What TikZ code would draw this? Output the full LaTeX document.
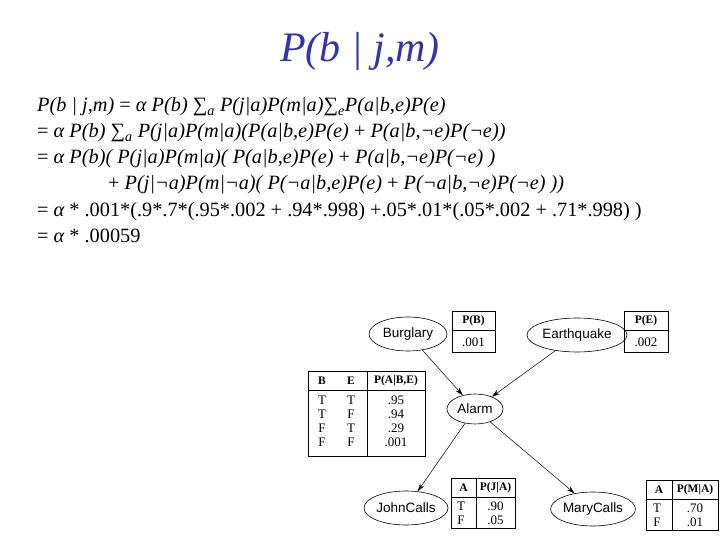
\documentclass[tikz,border=0pt]{standalone}
\usepackage{fontspec}
\setmainfont{Liberation Serif}
\newfontfamily\nodefont{Liberation Sans}
\usetikzlibrary{shapes.geometric,arrows.meta}
\definecolor{titleblue}{RGB}{51,51,170}
\begin{document}
\begin{tikzpicture}[x=1pt,y=-1pt,
  bn/.style={ellipse,draw,line width=0.6pt,inner sep=0pt,font=\nodefont\fontsize{13.5}{15}\selectfont},
  eq/.style={anchor=base west,inner sep=0pt,font=\fontsize{20.3}{22}\selectfont\itshape},
  cell/.style={inner sep=0pt,font=\fontsize{13}{14}\selectfont},
  hd/.style={cell,font=\fontsize{11.5}{14}\selectfont\bfseries},
  arr/.style={-{Stealth[length=8pt,width=5pt]},line width=0.5pt},
  tb/.style={line width=0.6pt}]
\useasboundingbox (0,0) rectangle (720,540);
\node[font=\fontsize{42}{44}\selectfont\itshape,text=titleblue,anchor=base] (title) at (360,62) {P(b | j,m)};
\node[eq] (l1) at (37,112) {P(b | j,m) \upshape=\itshape\ α P(b) ∑\textsubscript{a} P(j|a)P(m|a)∑\textsubscript{e}P(a|b,e)P(e)};
\node[eq] (l2) at (37,138) {\upshape=\itshape\ α P(b) ∑\textsubscript{a} P(j|a)P(m|a)(P(a|b,e)P(e) \upshape+\itshape\ P(a|b,¬e)P(¬e))};
\node[eq] (l3) at (37,164) {\upshape=\itshape\ α P(b)( P(j|a)P(m|a)( P(a|b,e)P(e) \upshape+\itshape\ P(a|b,¬e)P(¬e) )};
\node[eq] (l4) at (108,190) {\upshape+\itshape\ P(j|¬a)P(m|¬a)( P(¬a|b,e)P(e) \upshape+\itshape\ P(¬a|b,¬e)P(¬e) ))};
\node[eq] (l5) at (37,216) {\upshape= \itshape α\upshape\ * .001*(.9*.7*(.95*.002 + .94*.998) +.05*.01*(.05*.002 + .71*.998) )};
\node[eq] (l6) at (37,242) {\upshape= \itshape α\upshape\ * .00059};
% nodes
\node[bn,minimum width=78,minimum height=34] (B) at (408,334) {Burglary};
\node[bn,minimum width=100,minimum height=34] (E) at (577,335) {Earthquake};
\node[bn,minimum width=56,minimum height=30] (A) at (475,409) {Alarm};
\node[bn,minimum width=84,minimum height=34] (J) at (406,508) {JohnCalls};
\node[bn,minimum width=84,minimum height=34] (M) at (593,509) {MaryCalls};
\draw[arr] (B) -- (A);
\draw[arr] (E) -- (A);
\draw[arr] (A) -- (J);
\draw[arr] (A) -- (M);
% P(B)
\draw[tb] (452,311) rectangle (495,352);
\draw[line width=1pt] (452,330) -- (495,330);
\node[hd] (pbh) at (473.5,321) {P(B)};
\node[cell] (pbv) at (473.5,342) {.001};
% P(E)
\draw[tb] (624,311) rectangle (668,352);
\draw[line width=1pt] (624,330) -- (668,330);
\node[hd] (peh) at (646,321) {P(E)};
\node[cell] (pev) at (646,342) {.002};
% P(A|B,E)
\draw[tb] (308,371) rectangle (425,456);
\draw[line width=1pt] (308,390) -- (425,390);
\draw[tb] (367,371) -- (367,456);
\node[hd] (ah1) at (322,381) {B};
\node[hd] (ah2) at (351,381) {E};
\node[hd] (ah3) at (396,381) {P(A|B,E)};
\foreach \b/\e/\p [count=\i] in {T/T/.95,T/F/.94,F/T/.29,F/F/.001}{
  \node[cell] (ab\i) at (322,386+\i*14) {\b};
  \node[cell] (ae\i) at (351,386+\i*14) {\e};
  \node[cell] (ap\i) at (396,386+\i*14) {\p};
}
% P(J|A)
\draw[tb] (451,478) rectangle (515,528);
\draw[line width=1pt] (451,497) -- (515,497);
\draw[tb] (476,478) -- (476,528);
\node[hd] (jh1) at (463.5,488) {A};
\node[hd] (jh2) at (495.5,488) {P(J|A)};
\node[cell] (j1) at (461,506) {T};
\node[cell] (j2) at (461,520) {F};
\node[cell] (j3) at (495.5,506) {.90};
\node[cell] (j4) at (495.5,520) {.05};
% P(M|A)
\draw[tb] (646,480) rectangle (718,530);
\draw[line width=1pt] (646,499) -- (718,499);
\draw[tb] (672,480) -- (672,530);
\node[hd] (mh1) at (659,490) {A};
\node[hd] (mh2) at (695,490) {P(M|A)};
\node[cell] (m1) at (657,508) {T};
\node[cell] (m2) at (657,522) {F};
\node[cell] (m3) at (695,508) {.70};
\node[cell] (m4) at (695,522) {.01};
\end{tikzpicture}
\end{document}
